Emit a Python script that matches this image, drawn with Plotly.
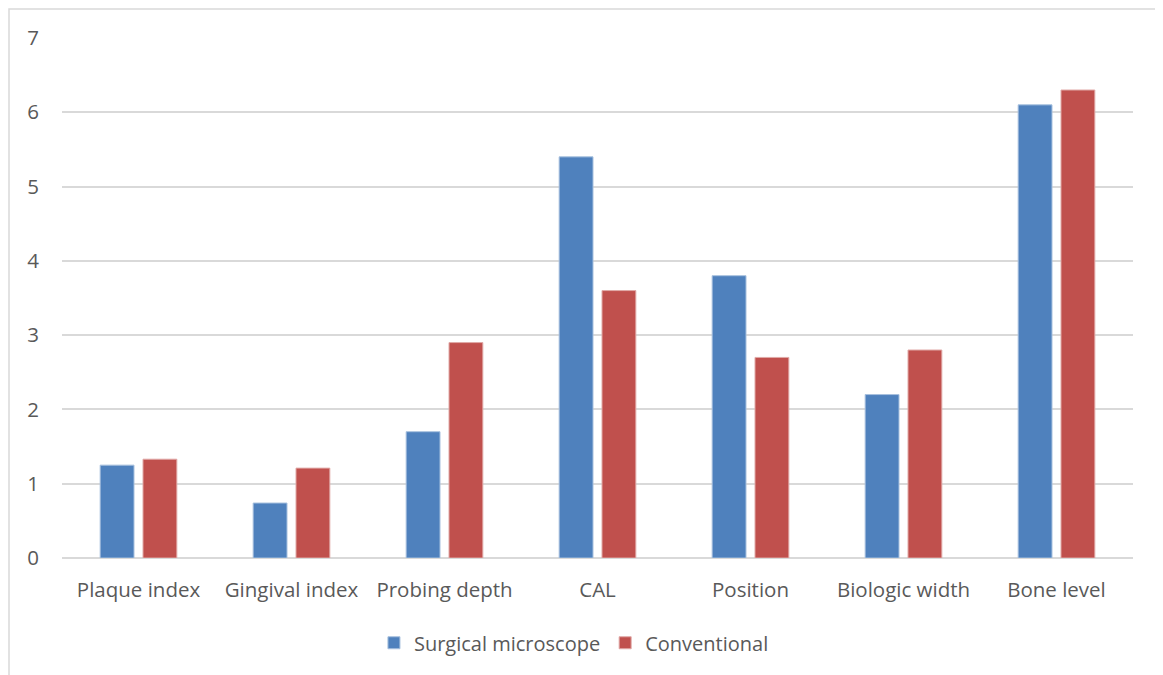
import plotly.graph_objects as go

categories = ["Plaque index", "Gingival index", "Probing depth", "CAL", "Position", "Biologic width", "Bone level"]
surgical = [1.25, 0.74, 1.70, 5.40, 3.80, 2.20, 6.10]
conventional = [1.33, 1.21, 2.90, 3.60, 2.70, 2.80, 6.30]

# page has an 8px body margin, so the figure is drawn 8px in
OFF = 8
W, H = 1163 - OFF, 675 - OFF
L, R, T, B = 62 - OFF, 30, 38 - OFF, 117
pw, ph = W - L - R, H - T - B

fig = go.Figure()
fig.add_trace(go.Bar(x=categories, y=surgical, name="Surgical microscope",
                     marker=dict(color="#4F81BD", line=dict(color="#A7C0DE", width=1))))
fig.add_trace(go.Bar(x=categories, y=conventional, name="Conventional",
                     marker=dict(color="#C0504D", line=dict(color="#E0A9A7", width=1))))

FAM = "'Open Sans', 'Noto Sans', sans-serif"
font = dict(family=FAM, size=20.5, color="#595959")

fig.update_layout(
    width=W, height=H,
    margin=dict(l=L, r=R, t=T, b=B),
    paper_bgcolor="white", plot_bgcolor="white",
    barmode="group", bargap=0.44, bargroupgap=0.21,
    font=font,
    legend=dict(orientation="h", x=0.478, xanchor="center", y=-0.163, yanchor="middle",
                font=dict(family=FAM, size=20, color="#595959"),
                itemwidth=30, traceorder="normal"),
    showlegend=True,
)
fig.update_xaxes(showgrid=False, showline=False, ticks="", ticklabelstandoff=17,
                 tickfont=font)
fig.update_yaxes(range=[0, 7], dtick=1, showgrid=True, gridcolor="#D9D9D9", gridwidth=1.5,
                 zeroline=True, zerolinecolor="#D9D9D9", zerolinewidth=1.5,
                 showline=False, ticks="", ticklabelstandoff=22, tickfont=font)

# outer chart border (page coords 9..1160.5 x 9..bottom)
x0 = (9 - OFF - L) / pw
x1 = (1160.5 - OFF - L) / pw
y1 = (H - B - (9 - OFF)) / ph
y0 = (H - B - 700) / ph
fig.add_shape(type="rect", xref="paper", yref="paper", x0=x0, x1=x1, y0=y0, y1=y1,
              line=dict(color="#D9D9D9", width=1.5), fillcolor="rgba(0,0,0,0)", layer="below")

fig.write_html("out.html")
